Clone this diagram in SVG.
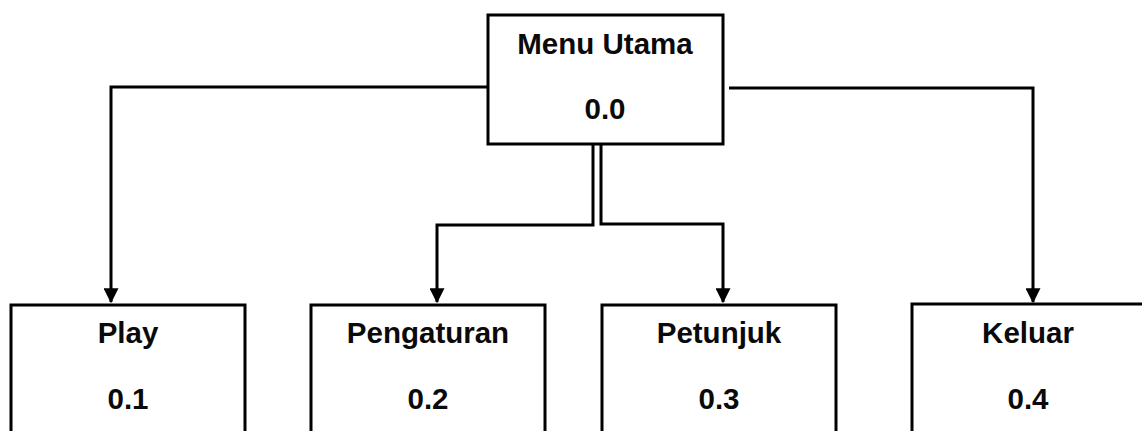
<svg xmlns="http://www.w3.org/2000/svg" width="1142" height="431" viewBox="0 0 1142 431">
  <defs>
    <style>
      .box { fill: #ffffff; stroke: #000000; stroke-width: 3; }
      .line { fill: none; stroke: #000000; stroke-width: 3; }
      .lbl { font-family: "Liberation Sans", Arial, sans-serif; font-weight: bold; font-size: 29.5px; fill: #0a0a0a; text-anchor: middle; }
    </style>
    <marker id="arrow" markerWidth="5" markerHeight="5" refX="4.6" refY="2.5" orient="auto" markerUnits="strokeWidth">
      <path d="M0,0 L5,2.5 L0,5 Z" fill="#000000"/>
    </marker>
  </defs>
  <rect width="1142" height="431" fill="#ffffff"/>
  <g id="connectors">
    <path class="line" d="M487,87 H111 V302" marker-end="url(#arrow)"/>
    <path class="line" d="M729,88 H1033 V302" marker-end="url(#arrow)"/>
    <path class="line" d="M593,145 V225 H437 V302" marker-end="url(#arrow)"/>
    <path class="line" d="M601,145 V224 H723 V302" marker-end="url(#arrow)"/>
  </g>
  <g id="node-menu-utama">
    <rect class="box" x="488" y="15" width="235" height="129"/>
    <text class="lbl" x="605" y="54">Menu Utama</text>
    <text class="lbl" x="605" y="119">0.0</text>
  </g>
  <g id="node-play">
    <rect class="box" x="11" y="305" width="234" height="140"/>
    <text class="lbl" x="128" y="343">Play</text>
    <text class="lbl" x="128" y="409">0.1</text>
  </g>
  <g id="node-pengaturan">
    <rect class="box" x="311" y="305" width="234" height="140"/>
    <text class="lbl" x="428" y="343">Pengaturan</text>
    <text class="lbl" x="428" y="409">0.2</text>
  </g>
  <g id="node-petunjuk">
    <rect class="box" x="602" y="305" width="234" height="140"/>
    <text class="lbl" x="719" y="343">Petunjuk</text>
    <text class="lbl" x="719" y="409">0.3</text>
  </g>
  <g id="node-keluar">
    <rect class="box" x="912" y="304" width="232" height="140"/>
    <text class="lbl" x="1028" y="343">Keluar</text>
    <text class="lbl" x="1028" y="409">0.4</text>
  </g>
</svg>
